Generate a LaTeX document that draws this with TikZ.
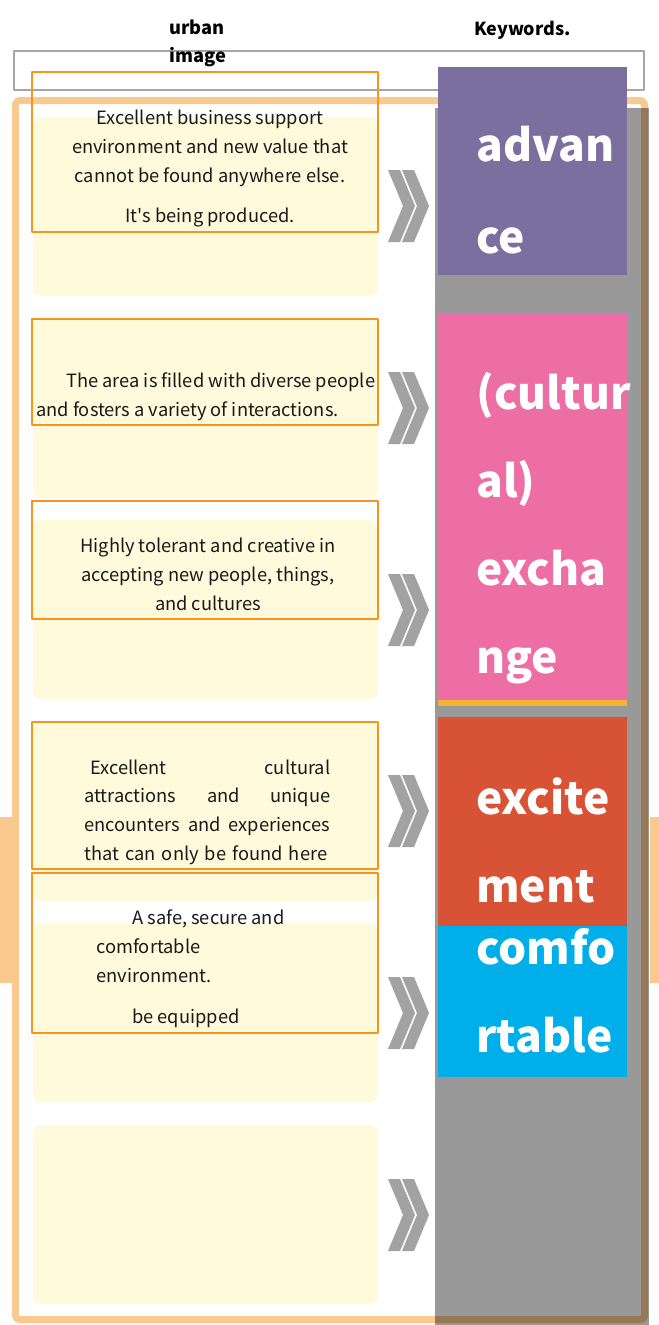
\documentclass[tikz,border=0pt]{standalone}
\usepackage{fontspec}
\setmainfont{Noto Sans CJK KR}
\definecolor{kwpurple}{RGB}{123,111,160}
\definecolor{kwpink}{RGB}{236,110,164}
\definecolor{kwred}{RGB}{216,83,54}
\definecolor{kwblue}{RGB}{0,174,234}
\definecolor{kwstrip}{RGB}{245,179,53}
\definecolor{boxfill}{RGB}{254,250,219}
\definecolor{boxline}{RGB}{247,148,29}
\definecolor{framecol}{RGB}{250,201,142}
\definecolor{chevcol}{RGB}{161,162,161}
\definecolor{headline}{RGB}{166,166,166}
\begin{document}
\begin{tikzpicture}[x=0.02cm,y=-0.02cm,font=\fontsize{10.4}{16.5}\selectfont,line join=round,
		txt/.style={inner sep=0pt,align=center,text=black!90},
		kw/.style={inner sep=0pt,align=left,text=white,font=\fontsize{25.2}{50}\selectfont\bfseries},
		textframe/.style={draw=boxline,line width=0.04cm}]
			\useasboundingbox (0,0) rectangle (659,1325);
			\fill[framecol] (0,817) rectangle (12,983) (650,817) rectangle (659,983);
			\draw[headline,line width=0.03cm] (14,51) rectangle (644,90);
			\node[inner sep=0pt,anchor=base west,align=left,font=\fontsize{10.4}{15.4}\selectfont\bfseries] (hurban) at (169,62) {urban\\image};
			\node[inner sep=0pt,anchor=base west,font=\fontsize{10.2}{15.4}\selectfont\bfseries] (hkey) at (474,35) {Keywords.};
			\foreach \i in {0,...,5}
				\fill[boxfill,rounded corners=0.16cm] (33,{117+201.6*\i}) rectangle (378,{296+201.6*\i});
			\draw[framecol,line width=0.14cm,rounded corners=0.08cm] (15.5,100.5) rectangle (644.5,1319.5);
			% text frames over the yellow cards
			\draw[textframe] (32,72) rectangle (378,232) (32,319) rectangle (378,425) (32,501) rectangle (378,619)
				(32,722) rectangle (378,869) (32,873) rectangle (378,1033);
			\node[txt,anchor=base] (t1) at (210,222.5) {Excellent business support\\environment and new value that\\cannot be found anywhere else.\\[6.5pt]It\textquotesingle s being produced.};
			\node[txt,anchor=base west,align=left] (t2) at (36,416) {\hspace*{0.6cm}The area is filled with diverse people\\and fosters a variety of interactions.};
			\node[txt,anchor=base] (t3) at (208,610) {Highly tolerant and creative in\\accepting new people, things,\\and cultures};
			\node[txt,anchor=base west,align=left,text width=4.92cm] (t4) at (84,774) {\hspace*{0.12cm}Excellent\hspace{\stretch{1}}cultural\\attractions\hspace{\stretch{1}}and\hspace{\stretch{1}}unique\\encounters\hspace{\stretch{1}}and\hspace{\stretch{1}}experiences\\that can only be found here};
			\node[txt,anchor=base west,align=left] (t5) at (96,1023) {\hspace*{0.72cm}A safe, secure and\\comfortable\\environment.\\[6.3pt]\hspace*{0.72cm}be equipped};
			\foreach \cy in {206,408,610,811,1013,1215}
				\foreach \dx in {0,14}
					\fill[chevcol,shift={(\dx,\cy)}] (388,-36) -- (400,-36) -- (415,0) -- (400,36) -- (388,36) -- (403,0) -- cycle;
			% keyword column
			\fill[black,opacity=.4] (435,108) rectangle (649,1325);
			\fill[kwpurple] (438,67) rectangle (627,275);
			\fill[kwpink] (438,314) rectangle (627,700);
			\fill[kwstrip] (438,700) rectangle (627,706);
			\fill[kwred] (438,717) rectangle (627,926);
			\fill[kwblue] (438,926) rectangle (627,1077);
			\node[kw,anchor=base west] (kadv) at (476,253) {advan\\[2.3pt]ce};
			\node[kw,anchor=base west] (kexc) at (476,673) {(cultur\\al)\\excha\\nge};
			\node[kw,anchor=base west] (kexi) at (476,902) {excite\\ment};
			\node[kw,anchor=base west] (kcom) at (476,1052) {comfo\\rtable};
		\end{tikzpicture}
\end{document}
